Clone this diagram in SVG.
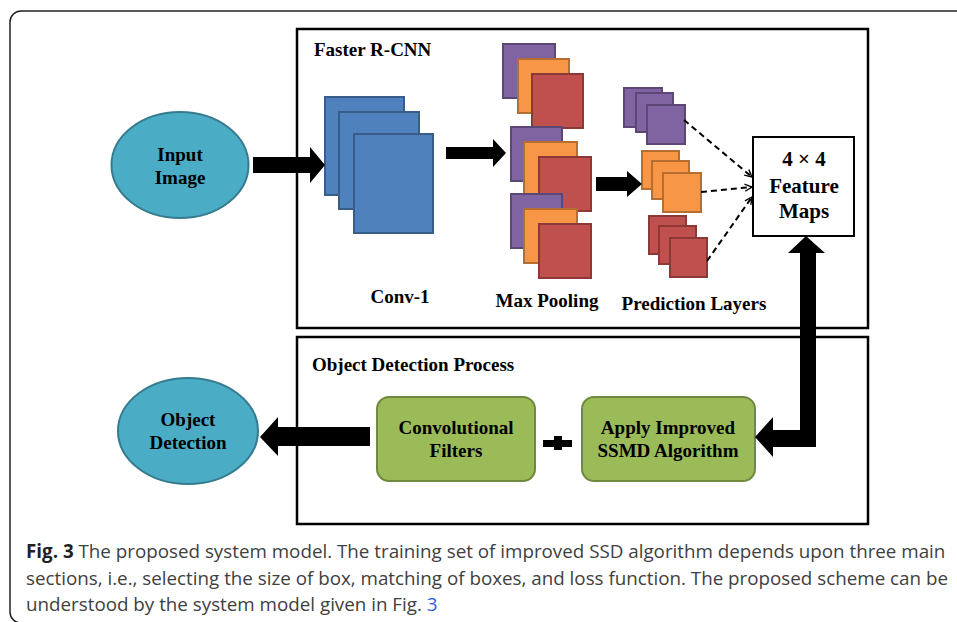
<svg xmlns="http://www.w3.org/2000/svg" width="957" height="622" viewBox="0 0 957 622">
<style>
.t{font-family:"Liberation Serif","Times New Roman",serif;font-weight:bold;font-size:19px;fill:#000;text-anchor:middle}
.tl{text-anchor:start}
.frame{fill:none;stroke:#000;stroke-width:2.5}
.ell{fill:#4BACC6;stroke:#357C8F;stroke-width:2}
.grn{fill:#9BBB59;stroke:#71893F;stroke-width:2}
.blu{fill:#4F81BD;stroke:#385D8A;stroke-width:2}
.pur{fill:#8064A2;stroke:#5C4776;stroke-width:2}
.org{fill:#F79646;stroke:#B66D31;stroke-width:2}
.red{fill:#C0504D;stroke:#8C3836;stroke-width:2}
.blk{fill:#000}
.dash{fill:none;stroke:#000;stroke-width:2;stroke-dasharray:6,4;marker-end:url(#open)}
.cap{font-family:"Open Sans","Noto Sans",sans-serif;font-size:18.8px;fill:#404040}
</style>
<defs>
<marker id="open" viewBox="0 0 10 10" refX="9" refY="5" markerWidth="4.5" markerHeight="4.5" orient="auto" markerUnits="strokeWidth">
<path d="M1,1 L9,5 L1,9" fill="none" stroke="#000" stroke-width="1.5"/>
</marker>
</defs>
<rect x="10" y="11" width="970" height="612" rx="11" fill="#fff" stroke="#222" stroke-width="1.5"/>

<g id="faster-rcnn">
<rect class="frame" x="297" y="29" width="571" height="299"/>
<text class="t tl" x="314" y="56">Faster R-CNN</text>
</g>
<g id="odp">
<rect class="frame" x="297" y="337" width="571" height="187"/>
<text class="t tl" x="312" y="371">Object Detection Process</text>
</g>

<g id="input-image">
<ellipse class="ell" cx="180" cy="165" rx="68.5" ry="53"/>
<text class="t" x="180" y="161">Input</text>
<text class="t" x="180" y="184">Image</text>
</g>

<g id="conv1">
<rect class="blu" x="325" y="97" width="79" height="98"/>
<rect class="blu" x="339" y="112" width="80" height="97"/>
<rect class="blu" x="354" y="134" width="79" height="99"/>
<text class="t" x="400" y="303">Conv-1</text>
</g>

<g id="max-pooling">
<rect class="pur" x="503" y="44" width="52" height="54"/>
<rect class="org" x="518" y="59" width="51" height="54"/>
<rect class="red" x="532" y="74" width="51" height="54"/>
<rect class="pur" x="511" y="127" width="51" height="54"/>
<rect class="org" x="524" y="142" width="53" height="53"/>
<rect class="red" x="539" y="157" width="52" height="54"/>
<rect class="pur" x="511" y="194" width="51" height="54"/>
<rect class="org" x="524" y="209" width="53" height="54"/>
<rect class="red" x="539" y="224" width="52" height="54"/>
<text class="t" x="547" y="307">Max Pooling</text>
</g>

<g id="prediction-layers">
<rect class="pur" x="624" y="88" width="38" height="39"/>
<rect class="pur" x="636" y="93" width="37" height="39"/>
<rect class="pur" x="647" y="105" width="38" height="39"/>
<rect class="org" x="642" y="151" width="37" height="38"/>
<rect class="org" x="652" y="161" width="37" height="38"/>
<rect class="org" x="663" y="173" width="38" height="39"/>
<rect class="red" x="649" y="216" width="37" height="38"/>
<rect class="red" x="659" y="226" width="37" height="38"/>
<rect class="red" x="670" y="238" width="37" height="39"/>
<text class="t" x="694" y="310">Prediction Layers</text>
</g>

<g id="feature-maps">
<rect x="753" y="137" width="101" height="99" fill="#fff" stroke="#000" stroke-width="2"/>
<text class="t" x="804" y="166" style="font-size:21px">4 × 4</text>
<text class="t" x="804" y="193" style="font-size:21px">Feature</text>
<text class="t" x="804" y="218" style="font-size:21px">Maps</text>
</g>

<g id="object-detection">
<ellipse class="ell" cx="188" cy="431" rx="70" ry="53"/>
<text class="t" x="188" y="426">Object</text>
<text class="t" x="188" y="449">Detection</text>
</g>

<g id="conv-filters">
<rect class="grn" x="377" y="397" width="158" height="84" rx="12"/>
<text class="t" x="456" y="434">Convolutional</text>
<text class="t" x="456" y="457">Filters</text>
</g>

<g id="plus">
<rect class="blk" x="543" y="440" width="29" height="7"/>
<rect class="blk" x="554" y="436" width="8" height="14"/>
</g>

<g id="apply-ssmd">
<rect class="grn" x="582" y="397" width="173" height="84" rx="12"/>
<text class="t" x="668" y="434">Apply Improved</text>
<text class="t" x="668" y="457">SSMD Algorithm</text>
</g>

<g id="connectors">
<polygon class="blk" points="253,157 310,157 310,147 325,165 310,183 310,173 253,173"/>
<polygon class="blk" points="446,147 493,147 493,139 506,153 493,167 493,159 446,159"/>
<polygon class="blk" points="596,177 627,177 627,171 642,184 627,197 627,191 596,191"/>
<path class="dash" d="M684,120 L752,177"/>
<path class="dash" d="M701,192 L752,187"/>
<path class="dash" d="M707,261 L752,197"/>
<polygon class="blk" points="806,236 825,253 816,253 816,447 773,447 773,457 755,437 773,417 773,430 800,430 800,253 788,253"/>
<polygon class="blk" points="370,427 278,427 278,417 260,437 278,456 278,446 370,446"/>
</g>

<g id="caption">
<text class="cap" x="26" y="558"><tspan font-weight="bold" fill="#222">Fig. 3</tspan> The proposed system model. The training set of improved SSD algorithm depends upon three main</text>
<text class="cap" x="26" y="585">sections, i.e., selecting the size of box, matching of boxes, and loss function. The proposed scheme can be</text>
<text class="cap" x="26" y="611">understood by the system model given in Fig. <tspan fill="#2b5ce6">3</tspan></text>
</g>
</svg>
